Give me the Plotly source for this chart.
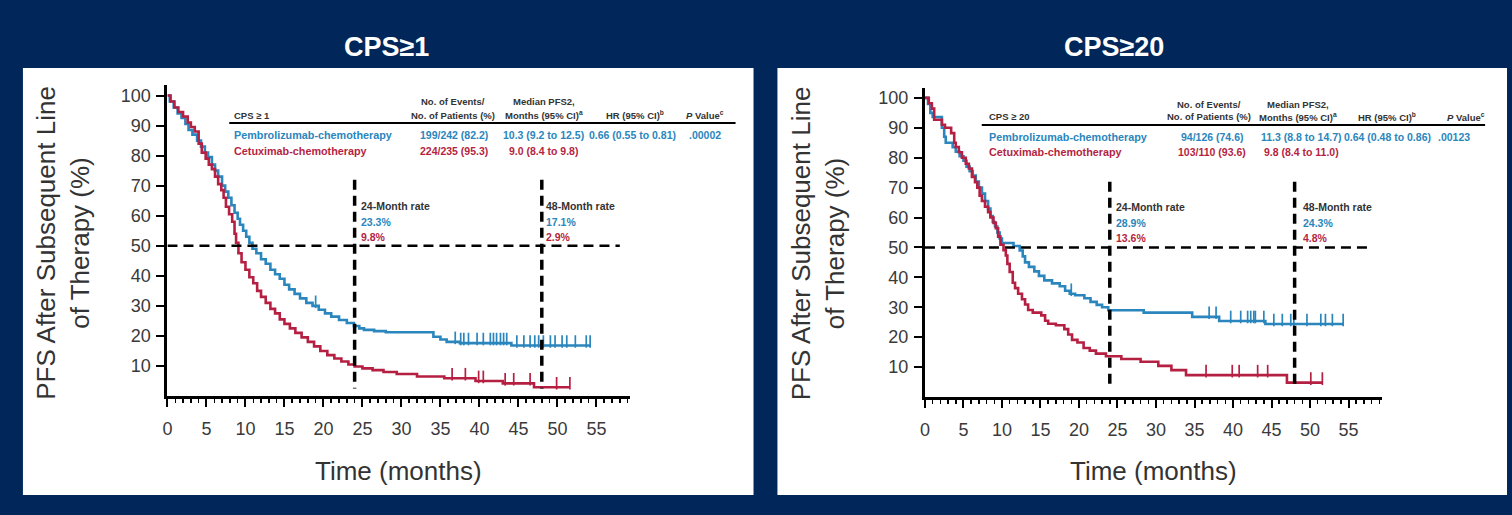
import plotly.graph_objects as go

W, H = 1512, 515
NAVY = "#01275A"
BLUE = "#2A86BC"
RED = "#B51F42"
DARK = "#333333"
TICKC = "#3a3a3a"
FONT = "Arial, Liberation Sans, sans-serif"

# ---------------- data ----------------
panel_titles = ["CPS≥1", "CPS≥20"]
subgroup_labels = ["CPS ≥ 1", "CPS ≥ 20"]
arm_names = ["Pembrolizumab-chemotherapy", "Cetuximab-chemotherapy"]
events = [["199/242 (82.2)", "224/235 (95.3)"], ["94/126 (74.6)", "103/110 (93.6)"]]
medians = [["10.3 (9.2 to 12.5)", "9.0 (8.4 to 9.8)"], ["11.3 (8.8 to 14.7)", "9.8 (8.4 to 11.0)"]]
hrs = ["0.66 (0.55 to 0.81)", "0.64 (0.48 to 0.86)"]
pvals = [".00002", ".00123"]
rates_24 = [["23.3%", "9.8%"], ["28.9%", "13.6%"]]
rates_48 = [["17.1%", "2.9%"], ["24.3%", "4.8%"]]
milestones = [24, 48]
median_level = 50
x_ticks = list(range(0, 60, 5))
y_ticks = list(range(10, 101, 10))

# CPS>=1, pembrolizumab-chemotherapy (step knots: time, survival %)
cps1_pem_t = [0, 0.3, 0.8, 1.3, 1.8, 2.3, 2.7, 3.2, 3.8, 4.3, 4.8, 5.2, 5.7, 6.1, 6.5, 7.0, 7.4, 7.8,
              8.2, 8.6, 9.0, 9.3, 9.7, 10.1, 10.5, 10.9, 11.4, 12.0, 12.6, 13.2, 13.8, 14.4, 15.0,
              15.6, 16.3, 17.0, 17.8, 18.6, 19.4, 20.2, 21.0, 22.0, 23.0, 23.9, 24.6, 25.2, 26.5,
              28.0, 34.1, 35.0, 35.8, 37.5, 44.1, 54.2]
cps1_pem_s = [100, 98, 96, 94, 92.5, 90.5, 88.5, 87, 85, 83, 81, 79.5, 77, 75, 73, 70, 68, 66,
              63.5, 61, 59, 57, 55, 53, 51, 49, 47.5, 45.5, 44, 42, 40.5, 39, 37,
              35.5, 34, 32.5, 31, 30, 28.7, 27.5, 26.4, 25.3, 24.3, 23.3, 22.5, 22, 21.6,
              21.2, 19.7, 18.8, 18.0, 17.6, 16.8, 16.8]
cps1_pem_cens = [19.0, 36.9, 37.6, 38.0, 38.6, 39.7, 40.5, 41.4, 41.8, 42.2, 42.7, 43.1, 43.5, 44.8,
                 45.7, 46.5, 47.1, 47.6, 48.2, 49.1, 49.7, 50.6, 51.2, 52.3, 53.7, 54.2]

# CPS>=1, cetuximab-chemotherapy
cps1_cet_t = [0, 0.4, 0.9, 1.4, 2.0, 2.6, 3.0, 3.5, 4.0, 4.4, 4.9, 5.3, 5.7, 6.1, 6.5, 6.9, 7.2, 7.5,
              7.9, 8.3, 8.6, 8.8, 9.1, 9.5, 10.0, 10.5, 11.0, 11.5, 12.0, 12.6, 13.2, 13.8, 14.4,
              15.0, 15.7, 16.4, 17.2, 18.0, 18.8, 19.6, 20.5, 21.4, 22.3, 23.2, 24.0, 25.0, 26.3,
              27.7, 29.4, 32.0, 35.5, 39.5, 43.0, 47.0, 51.6]
cps1_cet_s = [100, 98, 96, 94.5, 93, 91, 89.5, 88, 84, 81, 79, 77, 75.5, 73, 70.5, 68.5, 66, 63,
              60.5, 58, 54, 51, 47.5, 44.5, 42, 39.5, 37.5, 35, 33, 31, 29, 27.5, 25.5,
              24, 22.5, 21, 19.5, 18, 16.5, 15, 13.6, 12.5, 11.5, 10.5, 9.8, 9.2, 8.6,
              8.0, 7.3, 6.5, 5.9, 5.0, 4.2, 2.9, 2.9]
cps1_cet_cens = [36.5, 38.2, 39.9, 40.5, 43.3, 44.4, 46.5, 49.9, 51.6]

# CPS>=20, pembrolizumab-chemotherapy
cps20_pem_t = [0, 0.4, 0.7, 1.0, 2.2, 2.5, 2.7, 3.6, 4.0, 4.5, 5.0, 5.4, 5.8, 6.2, 6.6, 7.0, 7.4,
               7.8, 8.2, 8.5, 8.8, 9.1, 9.4, 9.7, 10.0, 11.5, 12.3, 12.7, 13.0, 13.5, 14.2, 14.8,
               15.5, 16.5, 17.5, 18.2, 18.8, 19.5, 20.7, 21.5, 22.3, 23.0, 23.8, 28.4, 34.7,
               38.2, 44.2, 54.3]
cps20_pem_s = [100, 98, 95, 93.6, 90, 87, 85, 83.5, 82, 80.5, 79, 77, 75.5, 74, 72, 70, 68,
               65.5, 63, 60.5, 58.5, 57, 55, 53, 51.5, 50.5, 49, 47, 45, 43.5, 42, 40.5,
               39, 38, 37, 35.5, 34.5, 34, 33, 31.8, 30.8, 30, 29, 28.2, 26.8,
               25.4, 24.4, 24.4]
cps20_pem_cens = [19.0, 36.9, 37.8, 39.7, 41.0, 41.9, 42.3, 42.7, 42.9, 44.0, 45.3, 46.4, 47.5,
                  47.9, 49.6, 51.4, 52.0, 52.9, 54.3]

# CPS>=20, cetuximab-chemotherapy
cps20_cet_t = [0, 0.5, 0.9, 1.2, 2.2, 2.6, 3.4, 3.8, 4.0, 4.4, 4.8, 5.3, 5.7, 6.1, 6.5, 6.8, 7.1,
               7.4, 7.8, 8.2, 8.5, 8.9, 9.2, 9.5, 9.8, 10.2, 10.5, 10.7, 11.0, 11.4, 11.7, 12.1,
               12.6, 13.0, 13.4, 14.0, 15.1, 15.6, 16.0, 17.0, 18.1, 18.6, 19.1, 19.8, 20.6,
               21.4, 22.2, 23.5, 25.5, 28.0, 30.3, 32.0, 33.9, 47.0, 51.6]
cps20_cet_s = [100, 98.2, 96.4, 92.7, 91, 90, 88.2, 85, 83.6, 81.8, 80, 78, 76.4, 73.6, 71.8, 70,
               67.3, 65.5, 63.6, 61.8, 60, 58.2, 56.4, 53.6, 50.9, 49.1, 47.3, 44.5, 41.8, 38.2,
               36.4, 34.5, 32.7, 30.9, 29.1, 28.2, 27.3, 25.5, 24.5, 24, 22.7, 20.9, 19.1, 18.2,
               16.4, 15.5, 14.5, 13.6, 12.7, 11.8, 10.4, 9.0, 7.3, 4.8, 4.8]
cps20_cet_cens = [36.5, 39.9, 40.8, 43.2, 44.5, 50.1, 51.6]

panels = [
    [(cps1_pem_t, cps1_pem_s, cps1_pem_cens, BLUE), (cps1_cet_t, cps1_cet_s, cps1_cet_cens, RED)],
    [(cps20_pem_t, cps20_pem_s, cps20_pem_cens, BLUE), (cps20_cet_t, cps20_cet_s, cps20_cet_cens, RED)],
]


def surv_at(ts, ss, c):
    v = ss[0]
    for t, s in zip(ts, ss):
        if t <= c:
            v = s
    return v


def px(x):
    return x / W


def py(y):
    return 1 - y / H


fig = go.Figure()
axis_ids = [("x", "y"), ("x2", "y2")]
for p, arms in enumerate(panels):
    xa, ya = axis_ids[p]
    for ts, ss, cens, col in arms:
        fig.add_trace(go.Scatter(x=ts, y=ss, mode="lines", line=dict(color=col, width=2.6, shape="hv"),
                                 xaxis=xa, yaxis=ya, showlegend=False, hoverinfo="skip"))
        cy = [surv_at(ts, ss, c) + 1.35 for c in cens]
        fig.add_trace(go.Scatter(x=cens, y=cy, mode="markers",
                                 marker=dict(symbol="line-ns", size=9, line=dict(color=col, width=1.7)),
                                 xaxis=xa, yaxis=ya, showlegend=False, hoverinfo="skip"))

shapes = []
# white panels
for x0, x1 in [(18, 751), (775, 1507)]:
    shapes.append(dict(type="rect", xref="paper", yref="paper", x0=px(x0), x1=px(x1), y0=py(495), y1=py(68),
                       fillcolor="white", line=dict(width=0), layer="below"))
# reference lines
for p in range(2):
    xa, ya = axis_ids[p]
    shapes.append(dict(type="line", xref=xa, yref=ya, x0=0, x1=58, y0=median_level, y1=median_level,
                       line=dict(color="black", width=2.6, dash="10px,6px")))
    for m in milestones:
        shapes.append(dict(type="line", xref=xa, yref=ya, x0=m, x1=m, y0=72, y1=2.5,
                           line=dict(color="black", width=3.5, dash="10px,6px")))
# table rules
for x0, x1, y in [(225, 733, 123), (980, 1485, 125)]:
    shapes.append(dict(type="line", xref="paper", yref="paper", x0=px(x0), x1=px(x1), y0=py(y), y1=py(y),
                       line=dict(color="black", width=2)))

ann = []


def A(x, y, text, size, color, xanchor="center", angle=0, bold=False, family=FONT):
    ann.append(dict(x=px(x), y=py(y), xref="paper", yref="paper", text=(f"<b>{text}</b>" if bold else text),
                    showarrow=False, xanchor=xanchor, yanchor="middle", textangle=angle, borderpad=0,
                    font=dict(size=size, color=color, family=family)))


title_x = [383, 1113]
time_x = [395, 1152]
ytitle_x = [58, 816]
for p in range(2):
    A(title_x[p], 47, panel_titles[p], 27, "white", bold=True)
    A(time_x[p], 471, "Time (months)", 26, DARK)
    A(ytitle_x[p], 243, "PFS After Subsequent Line<br>of Therapy (%)", 26, DARK, angle=-90)

# table layout positions (pixels)
tab = [
    dict(lab=229, ev=449, ev_d=450, md=541, md_d=540, hr=632, hr_d=630, pv=702, pv_d=702,
         h1=102, h2=115, r1=135, r2=151, r24=356, r48=542, ry=[206, 222, 237]),
    dict(lab=986, ev=1208, ev_d=1211, md=1297, md_d=1301, hr=1387, hr_d=1387, pv=1466, pv_d=1454,
         h1=104, h2=117, r1=137, r2=152, r24=1114, r48=1301, ry=[207, 223, 238]),
]
HS = 9.5
VS = 10.5
for p in range(2):
    t = tab[p]
    A(t["lab"], t["h2"], subgroup_labels[p], HS, DARK, xanchor="left", bold=True)
    A(t["ev"], t["h1"], "No. of Events/", HS, DARK, bold=True)
    A(t["ev"], t["h2"], "No. of Patients (%)", HS, DARK, bold=True)
    A(t["md"], t["h1"], "Median PFS2,", HS, DARK, bold=True)
    A(t["md"], t["h2"], "Months (95% CI)<sup>a</sup>", HS, DARK, bold=True)
    A(t["hr"], t["h2"], "HR (95% CI)<sup>b</sup>", HS, DARK, bold=True)
    A(t["pv"], t["h2"], "<i>P</i> Value<sup>c</sup>", HS, DARK, bold=True)
    for a, (col, ry) in enumerate([(BLUE, t["r1"]), (RED, t["r2"])]):
        A(t["lab"], ry, arm_names[a], 10.8, col, xanchor="left", bold=True)
        A(t["ev_d"], ry, events[p][a], VS, col, bold=True)
        A(t["md_d"], ry, medians[p][a], VS, col, bold=True)
    A(t["hr_d"], t["r1"], hrs[p], VS, BLUE, bold=True)
    A(t["pv_d"], t["r1"], pvals[p], VS, BLUE, bold=True)
    for xm, lab, rates in [(t["r24"], "24-Month rate", rates_24[p]), (t["r48"], "48-Month rate", rates_48[p])]:
        A(xm, t["ry"][0], lab, VS, DARK, xanchor="left", bold=True)
        A(xm, t["ry"][1], rates[0], VS, BLUE, xanchor="left", bold=True)
        A(xm, t["ry"][2], rates[1], VS, RED, xanchor="left", bold=True)


def xaxis(domain, rng, anchor):
    return dict(domain=domain, range=rng, anchor=anchor, showline=True, linecolor="black", linewidth=3,
                ticks="outside", tickvals=x_ticks, ticklen=8, tickwidth=2, tickcolor="black",
                minor=dict(tick0=0, dtick=1, ticks="outside", ticklen=4, tickwidth=1.5, tickcolor="black"),
                showgrid=False, zeroline=False, ticklabelstandoff=6,
                tickfont=dict(size=18, color=TICKC, family=FONT))


def yaxis(domain, rng, anchor):
    return dict(domain=domain, range=rng, anchor=anchor, showline=True, linecolor="black", linewidth=3,
                ticks="outside", tickvals=y_ticks, ticklen=8, tickwidth=2, tickcolor="black",
                showgrid=False, zeroline=False, ticklabelstandoff=2,
                tickfont=dict(size=18, color=TICKC, family=FONT))


fig.update_layout(
    width=W, height=H, margin=dict(l=0, r=0, t=0, b=0),
    paper_bgcolor=NAVY, plot_bgcolor="white",
    xaxis=xaxis([px(163), px(627)], [0, 59.3], "y"),
    yaxis=yaxis([py(396), py(85)], [0, 103.5], "x"),
    xaxis2=xaxis([px(923), px(1382)], [0, 59.4], "y2"),
    yaxis2=yaxis([py(397), py(88)], [0, 103.3], "x2"),
    shapes=shapes, annotations=ann, showlegend=False,
)

fig.write_html(
    "out.html",
    config={"displayModeBar": False, "staticPlot": True},
    post_script=("document.body.style.margin='0';document.body.style.padding='0';"
                 "document.body.style.overflow='hidden';document.body.style.background='" + NAVY + "';"),
)
